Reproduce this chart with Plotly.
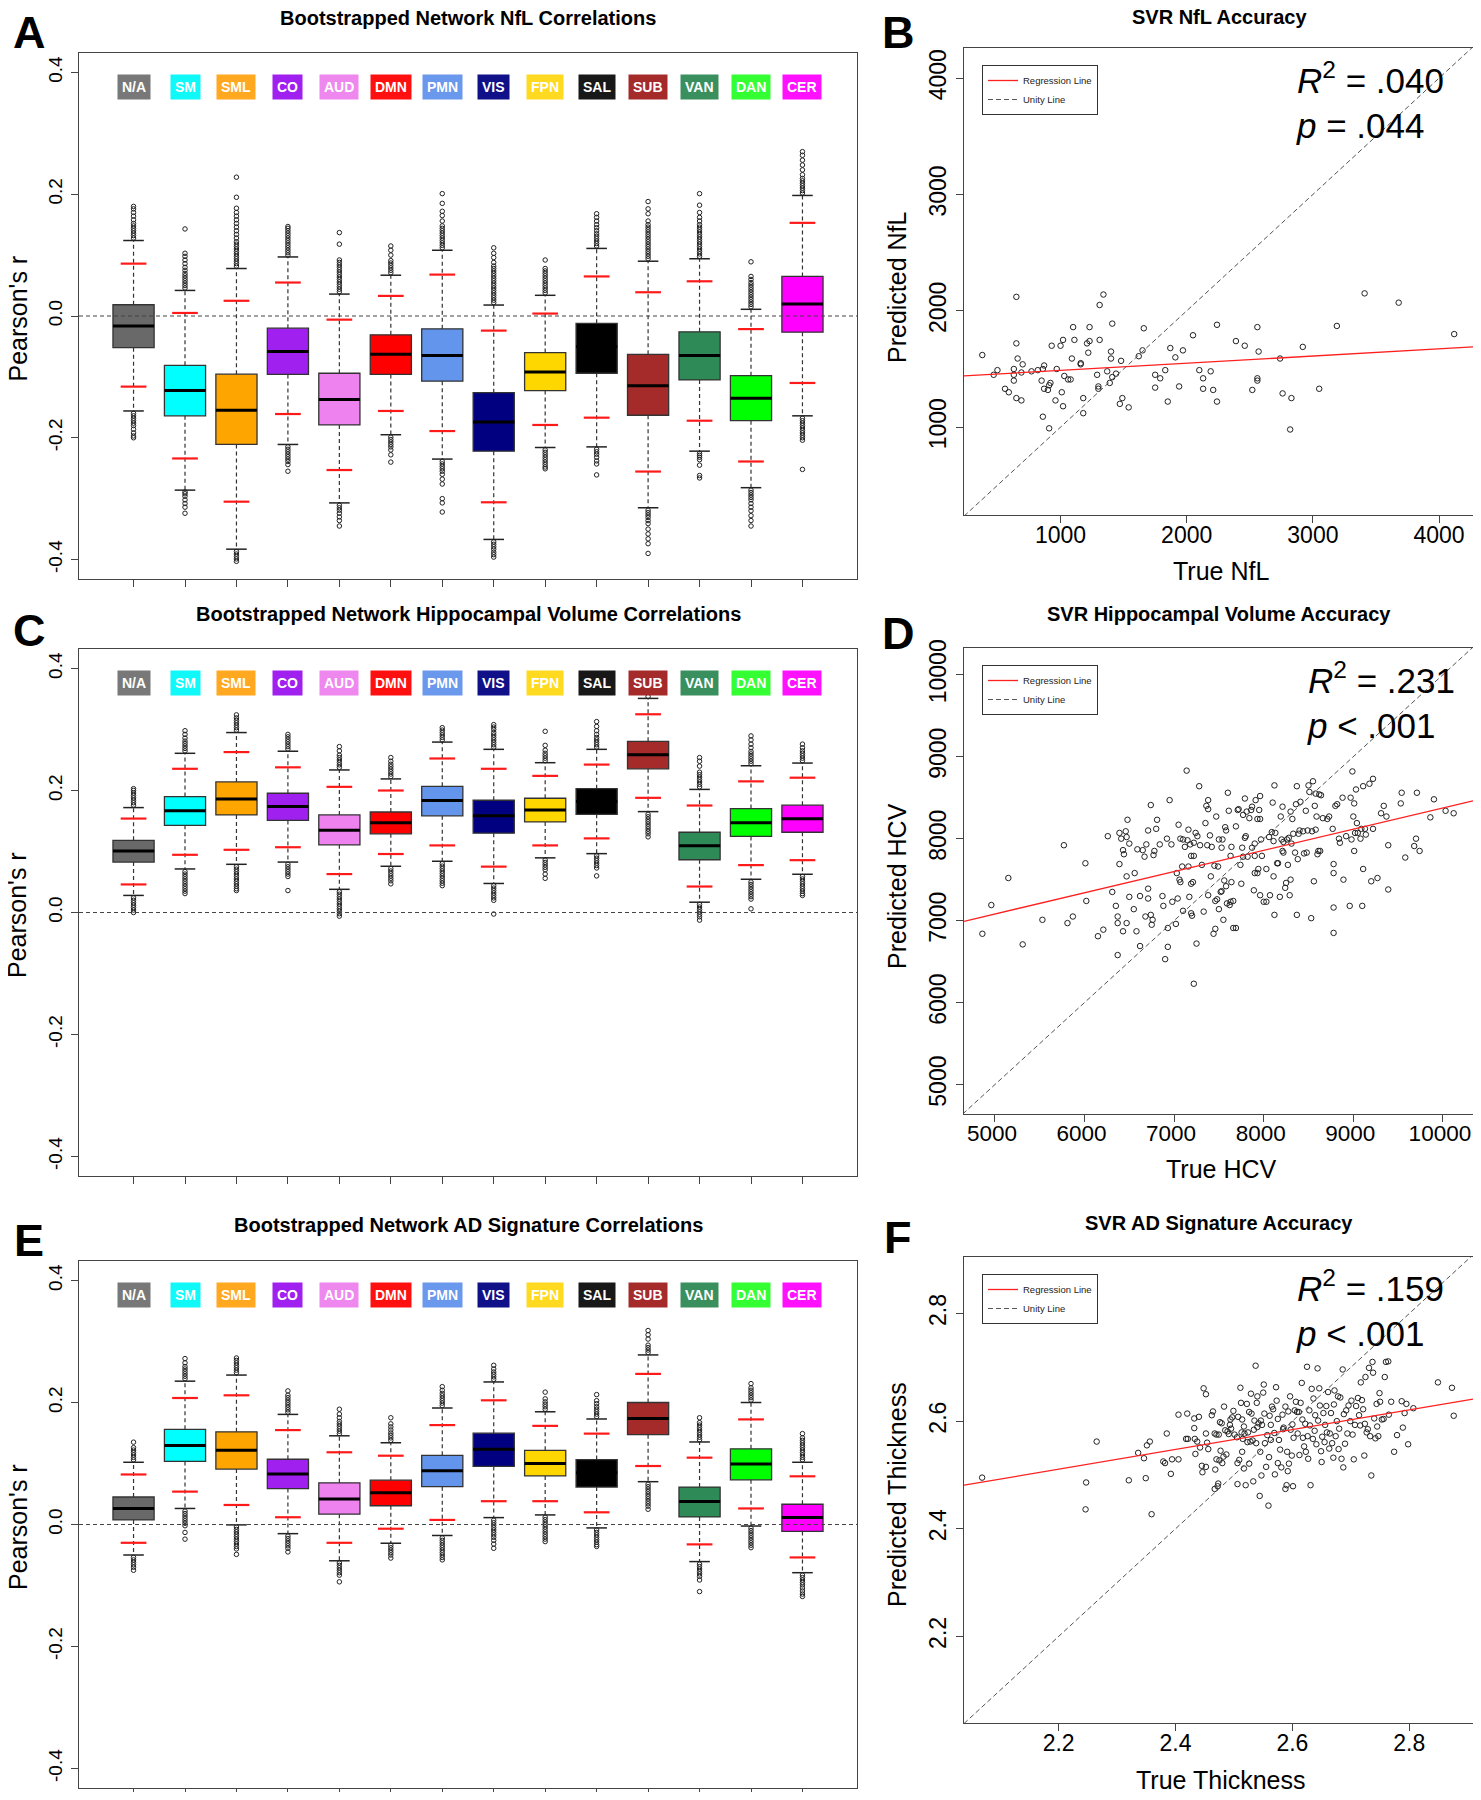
import plotly.graph_objects as go
from plotly.subplots import make_subplots

# page geometry (body has an 8px margin)
W, H = 1465, 1784
OFF = 8
FONT = "Liberation Sans, Arial, sans-serif"


def px_x(x):
    return (x - OFF) / W


def px_y(y):
    return 1 - (y - OFF) / H


# ---------------- network box plots ----------------
networks = ['N/A', 'SM', 'SML', 'CO', 'AUD', 'DMN', 'PMN', 'VIS', 'FPN', 'SAL', 'SUB', 'VAN', 'DAN', 'CER']
net_colors = ['#696969', '#00FFFF', '#FFA500', '#A020F0', '#EE82EE', '#FF0000', '#6495ED',
              '#000080', '#FFD700', '#000000', '#A52A2A', '#2E8B57', '#00FF00', '#FF00FF']
label_colors = ['#787878', '#10F8F8', '#FFA820', '#A020F0', '#EE88EE', '#FF1010', '#6A98ED',
                '#101088', '#FFDA20', '#181818', '#A52A2A', '#3A8F5F', '#33FF33', '#FF10FF']
positions = list(range(1, 15))
y_ticks = [-0.4, -0.2, 0.0, 0.2, 0.4]
y_tick_text = ['-0.4', '-0.2', '0.0', '0.2', '0.4']

# A: NfL
nfl_q3 = [0.0185, -0.081, -0.0955, -0.020, -0.094, -0.031, -0.021, -0.126, -0.060, -0.012, -0.063, -0.026, -0.098, 0.065]
nfl_med = [-0.0166, -0.1225, -0.155, -0.0585, -0.137, -0.063, -0.065, -0.174, -0.092, -0.05, -0.1145, -0.065, -0.135, 0.0197]
nfl_q1 = [-0.052, -0.164, -0.211, -0.096, -0.179, -0.096, -0.107, -0.222, -0.1225, -0.094, -0.163, -0.105, -0.172, -0.0265]
nfl_hi = [0.124, 0.042, 0.078, 0.097, 0.036, 0.067, 0.108, 0.018, 0.034, 0.111, 0.090, 0.094, 0.011, 0.198]
nfl_lo = [-0.156, -0.286, -0.383, -0.211, -0.307, -0.195, -0.235, -0.367, -0.216, -0.215, -0.315, -0.222, -0.282, -0.164]
nfl_ci_hi = [0.086, 0.005, 0.025, 0.055, -0.006, 0.033, 0.068, -0.024, 0.004, 0.065, 0.039, 0.057, -0.0215, 0.153]
nfl_ci_lo = [-0.116, -0.234, -0.305, -0.161, -0.253, -0.156, -0.189, -0.306, -0.179, -0.167, -0.2555, -0.172, -0.239, -0.110]
nfl_out_hi = [
    [0.128, 0.132, 0.136, 0.140, 0.144, 0.148, 0.152, 0.158, 0.164, 0.170, 0.176, 0.180],
    [0.046, 0.050, 0.054, 0.058, 0.062, 0.066, 0.070, 0.075, 0.080, 0.086, 0.092, 0.098, 0.103, 0.143],
    [0.082, 0.086, 0.090, 0.094, 0.098, 0.102, 0.106, 0.110, 0.114, 0.118, 0.122, 0.128, 0.134, 0.140,
     0.146, 0.152, 0.158, 0.164, 0.170, 0.177, 0.195, 0.228],
    [0.100, 0.104, 0.108, 0.112, 0.116, 0.120, 0.124, 0.128, 0.132, 0.136, 0.140, 0.144, 0.147],
    [0.040, 0.044, 0.048, 0.052, 0.056, 0.060, 0.064, 0.068, 0.072, 0.076, 0.080, 0.084, 0.088, 0.092, 0.118, 0.137],
    [0.071, 0.075, 0.079, 0.083, 0.087, 0.091, 0.100, 0.108, 0.115],
    [0.112, 0.116, 0.120, 0.124, 0.128, 0.132, 0.136, 0.140, 0.144, 0.148, 0.156, 0.165, 0.172, 0.185, 0.201],
    [0.022, 0.026, 0.030, 0.034, 0.038, 0.042, 0.046, 0.050, 0.054, 0.058, 0.062, 0.066, 0.070, 0.074,
     0.078, 0.082, 0.088, 0.096, 0.103, 0.112],
    [0.038, 0.042, 0.046, 0.050, 0.054, 0.058, 0.062, 0.066, 0.070, 0.074, 0.078, 0.092],
    [0.115, 0.119, 0.123, 0.127, 0.131, 0.135, 0.140, 0.145, 0.150, 0.156, 0.162, 0.168],
    [0.094, 0.098, 0.102, 0.106, 0.110, 0.114, 0.118, 0.122, 0.126, 0.130, 0.134, 0.138, 0.142, 0.146,
     0.150, 0.156, 0.168, 0.176, 0.188],
    [0.098, 0.102, 0.106, 0.110, 0.114, 0.118, 0.122, 0.126, 0.130, 0.134, 0.138, 0.142, 0.146, 0.150,
     0.156, 0.162, 0.170, 0.182, 0.201],
    [0.015, 0.019, 0.023, 0.027, 0.031, 0.035, 0.039, 0.043, 0.047, 0.051, 0.055, 0.060, 0.065, 0.089],
    [0.202, 0.206, 0.210, 0.214, 0.218, 0.222, 0.226, 0.232, 0.240, 0.248, 0.256, 0.264, 0.270],
]
nfl_out_lo = [
    [-0.160, -0.164, -0.168, -0.172, -0.176, -0.180, -0.186, -0.192, -0.197, -0.200],
    [-0.289, -0.292, -0.296, -0.302, -0.308, -0.314, -0.324],
    [-0.387, -0.391, -0.395, -0.399, -0.403],
    [-0.215, -0.219, -0.223, -0.227, -0.231, -0.235, -0.239, -0.244, -0.255],
    [-0.311, -0.315, -0.319, -0.324, -0.330, -0.336, -0.345],
    [-0.199, -0.203, -0.207, -0.211, -0.215, -0.220, -0.228, -0.240],
    [-0.239, -0.243, -0.247, -0.251, -0.255, -0.260, -0.268, -0.276, -0.300, -0.307, -0.322],
    [-0.371, -0.375, -0.379, -0.383, -0.388, -0.392, -0.396],
    [-0.220, -0.224, -0.228, -0.232, -0.236, -0.240, -0.244, -0.248, -0.251],
    [-0.219, -0.223, -0.227, -0.232, -0.238, -0.243, -0.261],
    [-0.319, -0.323, -0.327, -0.331, -0.336, -0.341, -0.350, -0.358, -0.366, -0.374, -0.390],
    [-0.226, -0.229, -0.232, -0.236, -0.245, -0.262, -0.266],
    [-0.286, -0.290, -0.294, -0.298, -0.302, -0.308, -0.314, -0.320, -0.328, -0.336, -0.345],
    [-0.168, -0.172, -0.176, -0.180, -0.184, -0.188, -0.192, -0.196, -0.200, -0.204, -0.252],
]

# C: hippocampal volume
hcv_q3 = [0.1184, 0.190, 0.214, 0.1955, 0.160, 0.1648, 0.2068, 0.184, 0.1873, 0.203, 0.2807, 0.1316, 0.1704, 0.176]
hcv_med = [0.1009, 0.1667, 0.186, 0.1736, 0.135, 0.147, 0.1836, 0.1585, 0.168, 0.182, 0.2588, 0.1096, 0.147, 0.1535]
hcv_q1 = [0.0827, 0.1429, 0.160, 0.151, 0.111, 0.129, 0.1585, 0.130, 0.1485, 0.161, 0.2356, 0.0865, 0.1247, 0.1316]
hcv_hi = [0.172, 0.261, 0.295, 0.2644, 0.2337, 0.219, 0.2794, 0.2675, 0.2456, 0.2675, 0.351, 0.2018, 0.2406, 0.245]
hcv_lo = [0.028, 0.0714, 0.079, 0.0827, 0.038, 0.0758, 0.084, 0.0476, 0.0896, 0.0965, 0.1654, 0.0169, 0.0545, 0.0627]
hcv_ci_hi = [0.154, 0.2356, 0.263, 0.238, 0.206, 0.200, 0.2525, 0.2356, 0.224, 0.2425, 0.325, 0.1754, 0.215, 0.221]
hcv_ci_lo = [0.046, 0.0946, 0.1028, 0.107, 0.063, 0.0959, 0.110, 0.0752, 0.110, 0.1215, 0.188, 0.0426, 0.0777, 0.0858]
hcv_out_hi = [
    [0.176, 0.180, 0.184, 0.188, 0.192, 0.196, 0.200, 0.203],
    [0.265, 0.269, 0.273, 0.277, 0.281, 0.286, 0.292, 0.298],
    [0.299, 0.303, 0.307, 0.311, 0.315, 0.319, 0.324],
    [0.268, 0.272, 0.276, 0.280, 0.284, 0.288, 0.292],
    [0.238, 0.242, 0.246, 0.250, 0.254, 0.258, 0.265, 0.272],
    [0.223, 0.227, 0.231, 0.235, 0.239, 0.243, 0.248, 0.254],
    [0.283, 0.287, 0.291, 0.295, 0.299, 0.303],
    [0.271, 0.275, 0.279, 0.283, 0.287, 0.291, 0.295, 0.300, 0.304, 0.308],
    [0.249, 0.253, 0.257, 0.261, 0.266, 0.274, 0.297],
    [0.271, 0.275, 0.279, 0.283, 0.287, 0.292, 0.298, 0.305, 0.313],
    [0.354],
    [0.206, 0.210, 0.214, 0.218, 0.222, 0.226, 0.230, 0.240, 0.248, 0.254],
    [0.244, 0.248, 0.252, 0.256, 0.260, 0.264, 0.270, 0.276, 0.283, 0.2895],
    [0.249, 0.253, 0.257, 0.261, 0.265, 0.270, 0.276],
]
hcv_out_lo = [
    [0.024, 0.020, 0.016, 0.012, 0.008, 0.004, 0.0],
    [0.067, 0.063, 0.059, 0.055, 0.051, 0.047, 0.043, 0.039, 0.035, 0.031],
    [0.075, 0.071, 0.067, 0.063, 0.059, 0.055, 0.051, 0.047, 0.043, 0.039, 0.036],
    [0.079, 0.075, 0.071, 0.067, 0.063, 0.059, 0.036],
    [0.034, 0.030, 0.026, 0.022, 0.018, 0.014, 0.010, 0.006, 0.002, -0.002, -0.006],
    [0.072, 0.068, 0.064, 0.060, 0.056, 0.052, 0.047],
    [0.080, 0.076, 0.072, 0.068, 0.064, 0.060, 0.056, 0.052, 0.048, 0.044],
    [0.044, 0.040, 0.036, 0.032, 0.028, 0.024, 0.020, -0.0025],
    [0.086, 0.082, 0.078, 0.074, 0.070, 0.063, 0.056],
    [0.093, 0.089, 0.085, 0.081, 0.077, 0.073, 0.060],
    [0.161, 0.157, 0.153, 0.149, 0.145, 0.141, 0.137, 0.133, 0.129, 0.124],
    [0.013, 0.009, 0.005, 0.001, -0.003, -0.007, -0.0125],
    [0.050, 0.046, 0.042, 0.038, 0.034, 0.030, 0.026, 0.022, 0.006],
    [0.059, 0.055, 0.051, 0.047, 0.043, 0.039, 0.035, 0.031, 0.028],
]

# E: AD signature
ads_q3 = [0.0451, 0.156, 0.152, 0.107, 0.0683, 0.0727, 0.1134, 0.1497, 0.1216, 0.1065, 0.200, 0.0614, 0.124, 0.0332]
ads_med = [0.0263, 0.1297, 0.1216, 0.0827, 0.042, 0.052, 0.0883, 0.1234, 0.100, 0.085, 0.1736, 0.0376, 0.099, 0.0113]
ads_q1 = [0.0075, 0.1034, 0.0908, 0.0589, 0.0169, 0.0307, 0.062, 0.0952, 0.0796, 0.0614, 0.1472, 0.0125, 0.0733, -0.0113]
ads_hi = [0.102, 0.235, 0.245, 0.1805, 0.1454, 0.134, 0.191, 0.2337, 0.1848, 0.173, 0.278, 0.1353, 0.200, 0.102]
ads_lo = [-0.050, 0.0263, -0.0006, -0.015, -0.0595, -0.0307, -0.018, 0.0113, 0.0157, -0.0056, 0.0702, -0.0608, -0.0025, -0.079]
ads_ci_hi = [0.082, 0.2074, 0.2118, 0.1548, 0.1184, 0.1128, 0.163, 0.2036, 0.1617, 0.149, 0.2469, 0.1096, 0.1723, 0.079]
ads_ci_lo = [-0.030, 0.0539, 0.032, 0.0119, -0.030, -0.0069, 0.0075, 0.0382, 0.0382, 0.020, 0.0959, -0.0326, 0.0263, -0.054]
ads_out_hi = [
    [0.106, 0.110, 0.114, 0.118, 0.122, 0.126, 0.135],
    [0.239, 0.243, 0.247, 0.251, 0.255, 0.259, 0.265, 0.272],
    [0.249, 0.253, 0.257, 0.261, 0.265, 0.269, 0.273],
    [0.184, 0.188, 0.192, 0.196, 0.200, 0.204, 0.208, 0.212, 0.219],
    [0.149, 0.153, 0.157, 0.161, 0.165, 0.169, 0.175, 0.181, 0.189],
    [0.138, 0.142, 0.146, 0.150, 0.155, 0.160, 0.165, 0.175],
    [0.195, 0.199, 0.203, 0.207, 0.211, 0.215, 0.220, 0.226],
    [0.238, 0.242, 0.246, 0.250, 0.255, 0.261],
    [0.189, 0.193, 0.197, 0.201, 0.206, 0.217],
    [0.177, 0.181, 0.185, 0.189, 0.193, 0.198, 0.203, 0.213],
    [0.282, 0.286, 0.290, 0.294, 0.304, 0.311, 0.318],
    [0.139, 0.143, 0.147, 0.151, 0.155, 0.159, 0.163, 0.167, 0.175],
    [0.204, 0.208, 0.212, 0.216, 0.220, 0.224, 0.231],
    [0.106, 0.110, 0.114, 0.118, 0.122, 0.126, 0.130, 0.134, 0.138, 0.142, 0.149],
]
ads_out_lo = [
    [-0.054, -0.058, -0.062, -0.066, -0.070, -0.075],
    [0.022, 0.018, 0.014, 0.010, 0.006, 0.002, -0.002, -0.013, -0.024],
    [-0.004, -0.008, -0.012, -0.016, -0.020, -0.024, -0.028, -0.032, -0.036, -0.040, -0.049],
    [-0.019, -0.023, -0.027, -0.031, -0.035, -0.039, -0.045],
    [-0.063, -0.067, -0.071, -0.075, -0.079, -0.083, -0.094],
    [-0.034, -0.038, -0.042, -0.046, -0.050, -0.055],
    [-0.022, -0.026, -0.030, -0.034, -0.038, -0.042, -0.046, -0.050, -0.054, -0.058],
    [0.007, 0.003, -0.001, -0.005, -0.009, -0.013, -0.017, -0.021, -0.026, -0.032, -0.039],
    [0.012, 0.008, 0.004, 0.0, -0.004, -0.008, -0.012, -0.016, -0.020, -0.024, -0.028],
    [-0.009, -0.013, -0.017, -0.021, -0.025, -0.029, -0.033, -0.036],
    [0.066, 0.062, 0.058, 0.054, 0.050, 0.046, 0.042, 0.038, 0.034, 0.030, 0.025],
    [-0.065, -0.069, -0.073, -0.077, -0.081, -0.085, -0.091, -0.110],
    [-0.006, -0.010, -0.014, -0.018, -0.022, -0.026, -0.030, -0.034, -0.038],
    [-0.083, -0.087, -0.091, -0.095, -0.099, -0.104, -0.109, -0.114, -0.118],
]

# ---------------- SVR scatter data ----------------
nfl_true = [380, 470, 500, 560, 590, 630, 630, 630, 650, 650,
            650, 660, 690, 690, 700, 770, 820, 850, 860, 870,
            860, 870, 900, 910, 910, 920, 930, 960, 970, 1000,
            1010, 1020, 1030, 1020, 1060, 1080, 1090, 1100, 1110, 1160,
            1160, 1180, 1180, 1210, 1220, 1230, 1230, 1290, 1300, 1300,
            1310, 1310, 1340, 1370, 1390, 1400, 1400, 1410, 1410, 1440,
            1470, 1480, 1490, 1540, 1620, 1650, 1660, 1750, 1750, 1790,
            1830, 1850, 1870, 1910, 1940, 1970, 2050, 2100, 2130, 2130,
            2190, 2210, 2240, 2240, 2390, 2460, 2520, 2560, 2560, 2560,
            2570, 2740, 2760, 2820, 2830, 2920, 3050, 3190, 3410, 3680, 4120]
nfl_pred = [1620, 1450, 1490, 1330, 1300, 1500, 1450, 1400, 2120, 1720,
            1250, 1590, 1230, 1470, 1540, 1480, 1490, 1400, 1500, 1530,
            1090, 1330, 1320, 990, 1360, 1380, 1700, 1230, 1500, 1700,
            1300, 1750, 1440, 1180, 1410, 1410, 1590, 1860, 1750, 1550,
            1540, 1250, 1120, 1720, 1640, 1860, 1740, 1450, 1350, 1330,
            2050, 1750, 2140, 1480, 1380, 1650, 1590, 1430, 1890, 1460,
            1200, 1570, 1250, 1170, 1610, 1660, 1850, 1450, 1340, 1420,
            1490, 1220, 1680, 1600, 1350, 1660, 1790, 1490, 1420, 1330,
            1480, 1320, 1880, 1220, 1740, 1700, 1320, 1420, 1400, 1860,
            1650, 1590, 1290, 980, 1250, 1690, 1330, 1870, 2150, 2070, 1800]

hcv_true = [4860, 4960, 5150, 5310, 5530, 5770, 5810, 5870, 6010, 6020,
            6150, 6210, 6260, 6310, 6350, 6370, 6370, 6370, 6390, 6390,
            6410, 6430, 6440, 6430, 6460, 6470, 6470, 6470, 6480, 6500,
            6500, 6550, 6560, 6580, 6590, 6620, 6620, 6650, 6670, 6680,
            6690, 6710, 6710, 6710, 6740, 6740, 6750, 6760, 6770, 6780,
            6800, 6810, 6840, 6870, 6880, 6900, 6920, 6930, 6930, 6950,
            6970, 6980, 7020, 7030, 7040, 7050, 7060, 7070, 7070, 7090,
            7100, 7100, 7120, 7140, 7150, 7160, 7160, 7170, 7180, 7190,
            7190, 7190, 7200, 7210, 7220, 7220, 7220, 7240, 7250, 7260,
            7280, 7290, 7310, 7330, 7350, 7360, 7370, 7380, 7380, 7380,
            7400, 7410, 7420, 7440, 7450, 7460, 7460, 7470, 7480, 7490,
            7500, 7500, 7520, 7530, 7530, 7540, 7550, 7560, 7570, 7580,
            7580, 7590, 7600, 7610, 7620, 7630, 7630, 7640, 7640, 7660,
            7660, 7690, 7690, 7710, 7720, 7740, 7750, 7760, 7770, 7770,
            7790, 7790, 7800, 7810, 7820, 7840, 7860, 7870, 7870, 7890,
            7900, 7900, 7900, 7910, 7930, 7930, 7940, 7950, 7960, 7960,
            7960, 7970, 7980, 8000, 8030, 8030, 8060, 8070, 8090, 8100,
            8110, 8110, 8120, 8120, 8130, 8150, 8160, 8180, 8190, 8200,
            8210, 8210, 8220, 8220, 8240, 8250, 8260, 8270, 8280, 8290,
            8300, 8300, 8310, 8320, 8330, 8350, 8360, 8370, 8370, 8380,
            8390, 8400, 8410, 8440, 8450, 8470, 8480, 8490, 8500, 8510,
            8530, 8540, 8550, 8560, 8570, 8580, 8580, 8590, 8600, 8610,
            8620, 8630, 8640, 8660, 8710, 8730, 8770, 8780, 8780, 8780,
            8780, 8800, 8820, 8840, 8850, 8880, 8890, 8920, 8960, 8970,
            8980, 8990, 9000, 9010, 9010, 9020, 9030, 9040, 9050, 9080,
            9090, 9100, 9110, 9110, 9130, 9140, 9180, 9200, 9220, 9220,
            9270, 9310, 9340, 9370, 9390, 9390, 9530, 9540, 9580, 9680,
            9700, 9740, 9860, 9900, 10030, 10120, 9710]
hcv_pred = [6840, 7190, 7520, 6710, 7010, 7920, 6970, 7050, 7700, 7240,
            6810, 6890, 8030, 7350, 7180, 7050, 6970, 6580, 7690, 8070,
            8000, 7860, 7810, 6870, 8090, 8020, 7540, 6970, 8230, 7290,
            7940, 7140, 7580, 6870, 7870, 6690, 7300, 7860, 7780, 7050,
            7930, 8100, 7270, 7390, 8410, 7070, 6950, 7010, 7800, 7850,
            8120, 8230, 7930, 7300, 7180, 6530, 8000, 6910, 6680, 8470,
            7930, 7230, 6960, 7580, 7270, 8170, 7500, 8000, 7470, 7660,
            7120, 7990, 7900, 8830, 7980, 7660, 8110, 7290, 7930, 7090,
            7790, 7450, 7060, 7470, 7950, 6230, 7790, 8070, 6720, 8030,
            8640, 7920, 7680, 7110, 8190, 8400, 7920, 7310, 8470, 8360,
            8040, 7540, 7900, 6840, 7670, 6900, 7240, 8270, 7260, 7660,
            7140, 7990, 7350, 7890, 7360, 7990, 7010, 7490, 8140, 7420,
            8100, 7210, 8560, 8340, 7190, 7230, 7790, 7470, 7900, 6910,
            7240, 6910, 8150, 8350, 8360, 7680, 7450, 7890, 7780, 8290,
            8490, 8010, 8030, 8330, 7780, 8250, 8350, 8390, 7890, 7370,
            7940, 7580, 7790, 8470, 8240, 7580, 7630, 8350, 7310, 8240,
            8520, 7990, 7790, 7230, 7230, 7630, 8020, 7310, 8080, 8440,
            7970, 7540, 8650, 7070, 8070, 7700, 7700, 7290, 8270, 7990,
            8390, 7850, 7830, 7960, 7400, 7460, 7990, 7680, 8010, 7310,
            7500, 8330, 7940, 8240, 8060, 7830, 8420, 8640, 7070, 7750,
            8060, 8100, 8450, 8090, 7820, 8340, 7830, 8100, 8650, 8570,
            7030, 8090, 8700, 7480, 8400, 8110, 8550, 8270, 7810, 7850,
            8540, 7850, 8530, 8250, 8240, 8270, 8120, 7690, 7580, 6850,
            7160, 8400, 8420, 8000, 7950, 8500, 7500, 8030, 7180, 8500,
            7990, 8820, 8270, 8430, 7850, 8070, 8600, 8190, 8070, 8000,
            8120, 7180, 8640, 7630, 8120, 8050, 8670, 7480, 8730, 8120,
            7520, 8310, 8400, 8270, 7920, 7380, 8430, 8560, 7770, 7910,
            8000, 7850, 8260, 8480, 8340, 8310, 8560]

thick_true = [2.069, 2.247, 2.246, 2.265, 2.320, 2.336, 2.346, 2.349, 2.351, 2.356,
              2.359, 2.379, 2.382, 2.385, 2.392, 2.394, 2.405, 2.405, 2.418, 2.420,
              2.421, 2.432, 2.432, 2.433, 2.434, 2.437, 2.440, 2.442, 2.445, 2.446,
              2.448, 2.452, 2.452, 2.452, 2.454, 2.456, 2.462, 2.464, 2.467, 2.467,
              2.468, 2.470, 2.470, 2.472, 2.473, 2.474, 2.475, 2.476, 2.477, 2.479,
              2.480, 2.482, 2.483, 2.485, 2.487, 2.489, 2.491, 2.493, 2.494, 2.495,
              2.497, 2.499, 2.501, 2.505, 2.506, 2.506, 2.507, 2.509, 2.511, 2.512,
              2.513, 2.514, 2.514, 2.515, 2.517, 2.517, 2.518, 2.520, 2.522, 2.523,
              2.524, 2.526, 2.526, 2.528, 2.529, 2.530, 2.532, 2.533, 2.534, 2.535,
              2.537, 2.538, 2.539, 2.540, 2.540, 2.542, 2.544, 2.545, 2.546, 2.547,
              2.548, 2.550, 2.551, 2.552, 2.553, 2.555, 2.557, 2.559, 2.560, 2.561,
              2.563, 2.563, 2.565, 2.567, 2.569, 2.570, 2.572, 2.573, 2.575, 2.575,
              2.577, 2.579, 2.581, 2.583, 2.584, 2.585, 2.588, 2.588, 2.590, 2.591,
              2.592, 2.593, 2.594, 2.596, 2.597, 2.599, 2.600, 2.601, 2.602, 2.604,
              2.606, 2.608, 2.609, 2.611, 2.612, 2.614, 2.616, 2.617, 2.618, 2.620,
              2.622, 2.623, 2.625, 2.626, 2.627, 2.629, 2.630, 2.631, 2.633, 2.635,
              2.636, 2.638, 2.639, 2.641, 2.643, 2.644, 2.646, 2.647, 2.649, 2.650,
              2.651, 2.653, 2.655, 2.656, 2.658, 2.659, 2.661, 2.663, 2.664, 2.666,
              2.668, 2.670, 2.671, 2.672, 2.674, 2.676, 2.678, 2.679, 2.680, 2.682,
              2.684, 2.686, 2.687, 2.688, 2.690, 2.692, 2.694, 2.696, 2.699, 2.701,
              2.703, 2.705, 2.707, 2.709, 2.712, 2.714, 2.716, 2.717, 2.719, 2.721,
              2.723, 2.724, 2.725, 2.727, 2.729, 2.731, 2.733, 2.735, 2.737, 2.738,
              2.740, 2.742, 2.744, 2.745, 2.747, 2.749, 2.750, 2.753, 2.756, 2.758,
              2.760, 2.764, 2.765, 2.769, 2.774, 2.779, 2.787, 2.789, 2.792, 2.795,
              2.798, 2.807, 2.849, 2.873, 2.876]
thick_pred = [2.495, 2.486, 2.436, 2.562, 2.490, 2.541, 2.531, 2.494, 2.555, 2.562,
              2.427, 2.525, 2.522, 2.577, 2.502, 2.529, 2.612, 2.529, 2.567, 2.614,
              2.567, 2.605, 2.587, 2.567, 2.539, 2.562, 2.608, 2.551, 2.517, 2.505,
              2.661, 2.515, 2.650, 2.577, 2.560, 2.548, 2.611, 2.618, 2.577, 2.474,
              2.510, 2.575, 2.529, 2.479, 2.484, 2.575, 2.527, 2.598, 2.545, 2.596,
              2.522, 2.534, 2.627, 2.583, 2.538, 2.581, 2.576, 2.593, 2.603, 2.586,
              2.607, 2.619, 2.575, 2.570, 2.522, 2.483, 2.608, 2.528, 2.662, 2.634,
              2.579, 2.543, 2.603, 2.567, 2.512, 2.590, 2.577, 2.481, 2.632, 2.561,
              2.579, 2.617, 2.521, 2.562, 2.651, 2.614, 2.564, 2.488, 2.584, 2.601,
              2.703, 2.559, 2.634, 2.646, 2.589, 2.596, 2.461, 2.543, 2.601, 2.499,
              2.593, 2.653, 2.668, 2.614, 2.559, 2.515, 2.574, 2.443, 2.533, 2.610,
              2.593, 2.565, 2.627, 2.622, 2.578, 2.501, 2.663, 2.638, 2.522, 2.604,
              2.565, 2.547, 2.514, 2.612, 2.585, 2.588, 2.627, 2.474, 2.481, 2.543,
              2.507, 2.618, 2.521, 2.646, 2.584, 2.536, 2.594, 2.479, 2.569, 2.620,
              2.636, 2.617, 2.577, 2.617, 2.537, 2.634, 2.671, 2.603, 2.569, 2.553,
              2.595, 2.543, 2.701, 2.572, 2.530, 2.620, 2.592, 2.481, 2.660, 2.567,
              2.642, 2.582, 2.611, 2.557, 2.698, 2.601, 2.661, 2.629, 2.544, 2.524,
              2.571, 2.615, 2.561, 2.593, 2.628, 2.579, 2.654, 2.549, 2.577, 2.615,
              2.559, 2.532, 2.631, 2.657, 2.572, 2.600, 2.646, 2.548, 2.586, 2.644,
              2.530, 2.696, 2.514, 2.613, 2.558, 2.620, 2.577, 2.629, 2.600, 2.638,
              2.575, 2.529, 2.593, 2.628, 2.643, 2.611, 2.592, 2.672, 2.639, 2.622,
              2.536, 2.595, 2.682, 2.579, 2.585, 2.699, 2.572, 2.499, 2.710, 2.690,
              2.605, 2.568, 2.632, 2.590, 2.572, 2.652, 2.636, 2.603, 2.604, 2.682,
              2.710, 2.711, 2.612, 2.636, 2.543, 2.574, 2.637, 2.588, 2.615, 2.632,
              2.557, 2.624, 2.672, 2.662, 2.610]

# fitted regression lines (intercept, slope) as drawn in the source
nfl_fit = (1426.0, 0.0617)
hcv_fit = (5788.0, 0.2586)
thick_fit = (2.1066, 0.1837)

fig = make_subplots(rows=3, cols=2)


def segments(x0, x1, y0, y1):
    xs, ys = [], []
    for a, b, c, d in zip(x0, x1, y0, y1):
        xs += [a, b, None]
        ys += [c, d, None]
    return xs, ys


def add_box_panel(row, q1, med, q3, lo, hi, ci_lo, ci_hi, out_hi, out_lo):
    dash = "4px,3px"
    wx, wy = segments(positions, positions, q3, hi)
    wx2, wy2 = segments(positions, positions, q1, lo)
    fig.add_trace(go.Scatter(x=wx + wx2, y=wy + wy2, mode='lines',
                             line=dict(color='#333', width=1.2, dash=dash),
                             hoverinfo='skip', showlegend=False), row=row, col=1)
    fig.add_trace(go.Bar(x=positions, y=[b - a for a, b in zip(q1, q3)], base=q1, width=0.8,
                         marker=dict(color=net_colors, line=dict(color='#333', width=1.3)),
                         showlegend=False), row=row, col=1)
    left = [p - 0.4 for p in positions]
    right = [p + 0.4 for p in positions]
    mx, my = segments(left, right, med, med)
    fig.add_trace(go.Scatter(x=mx, y=my, mode='lines', line=dict(color='black', width=3),
                             hoverinfo='skip', showlegend=False), row=row, col=1)
    cl = [p - 0.2 for p in positions]
    cr = [p + 0.2 for p in positions]
    cx, cy = segments(cl + cl, cr + cr, hi + lo, hi + lo)
    fig.add_trace(go.Scatter(x=cx, y=cy, mode='lines', line=dict(color='#222', width=1.5),
                             hoverinfo='skip', showlegend=False), row=row, col=1)
    rl = [p - 0.25 for p in positions]
    rr = [p + 0.25 for p in positions]
    rx, ry = segments(rl + rl, rr + rr, ci_hi + ci_lo, ci_hi + ci_lo)
    fig.add_trace(go.Scatter(x=rx, y=ry, mode='lines', line=dict(color='#FF1A1A', width=2.2),
                             hoverinfo='skip', showlegend=False), row=row, col=1)
    ox, oy = [], []
    for p, up, down in zip(positions, out_hi, out_lo):
        ox += [p] * (len(up) + len(down))
        oy += up + down
    fig.add_trace(go.Scatter(x=ox, y=oy, mode='markers',
                             marker=dict(symbol='circle-open', size=4.5, color='#222',
                                         line=dict(width=1)),
                             hoverinfo='skip', showlegend=False), row=row, col=1)
    fig.add_hline(y=0, line=dict(color='#444', width=1.2, dash=dash), row=row, col=1)
    xname = 'x' if row == 1 else 'x%d' % (2 * row - 1)
    yname = 'y' if row == 1 else 'y%d' % (2 * row - 1)
    for p, name, c in zip(positions, networks, label_colors):
        fig.add_annotation(x=p, y=0.376, xref=xname, yref=yname, text='<b>%s</b>' % name,
                           showarrow=False, bgcolor=c, borderpad=4,
                           font=dict(family=FONT, size=14, color='white'))


def add_scatter_panel(row, x, y, xr, yr, fit, legend_name):
    fig.add_trace(go.Scatter(x=x, y=y, mode='markers',
                             marker=dict(symbol='circle-open', size=5.5, color='#222',
                                         line=dict(width=1)),
                             showlegend=False), row=row, col=2)
    a, b = fit
    fig.add_trace(go.Scatter(x=list(xr), y=[a + b * v for v in xr], mode='lines',
                             line=dict(color='#FF2020', width=1.3), name='Regression Line',
                             legend=legend_name), row=row, col=2)
    lo = min(xr[0], yr[0])
    hi = max(xr[1], yr[1])
    fig.add_trace(go.Scatter(x=[lo, hi], y=[lo, hi], mode='lines',
                             line=dict(color='#555', width=1, dash='5px,3px'), name='Unity Line',
                             legend=legend_name), row=row, col=2)


add_box_panel(1, nfl_q1, nfl_med, nfl_q3, nfl_lo, nfl_hi, nfl_ci_lo, nfl_ci_hi, nfl_out_hi, nfl_out_lo)
add_box_panel(2, hcv_q1, hcv_med, hcv_q3, hcv_lo, hcv_hi, hcv_ci_lo, hcv_ci_hi, hcv_out_hi, hcv_out_lo)
add_box_panel(3, ads_q1, ads_med, ads_q3, ads_lo, ads_hi, ads_ci_lo, ads_ci_hi, ads_out_hi, ads_out_lo)

nfl_xr, nfl_yr = (235, 4269), (245, 4259)
hcv_xr, hcv_yr = (4655, 10336), (4641, 10326)
thick_xr, thick_yr = (2.038, 2.909), (2.039, 2.905)
add_scatter_panel(1, nfl_true, nfl_pred, nfl_xr, nfl_yr, nfl_fit, 'legend')
add_scatter_panel(2, hcv_true, hcv_pred, hcv_xr, hcv_yr, hcv_fit, 'legend2')
add_scatter_panel(3, thick_true, thick_pred, thick_xr, thick_yr, thick_fit, 'legend3')

axis_style = dict(showline=True, mirror=True, linecolor='#444', linewidth=1.3, ticks='outside',
                  ticklen=7, tickcolor='#444', showgrid=False, zeroline=False, automargin=False,
                  tickfont=dict(family=FONT, color='black'))

box_rows = [(53, 579), (649, 1176), (1261, 1788)]
sc_rows = [(48, 515), (648, 1114), (1257, 1723)]
layout = {}
for i in range(3):
    k = 2 * i + 1
    kx = '' if k == 1 else str(k)
    top, bot = box_rows[i]
    layout['xaxis' + kx] = dict(axis_style, domain=[px_x(79), px_x(857)], range=[-0.06, 15.06],
                                tickvals=positions, showticklabels=False)
    layout['yaxis' + kx] = dict(axis_style, domain=[px_y(bot), px_y(top)], range=[-0.432, 0.432],
                                tickvals=y_ticks, ticktext=y_tick_text, tickangle=-90,
                                ticklabelstandoff=1,
                                tickfont=dict(family=FONT, size=19, color='black'))
    k2 = str(2 * i + 2)
    top, bot = sc_rows[i]
    layout['xaxis' + k2] = dict(axis_style, domain=[px_x(964), px_x(1473)],
                                ticklabelstandoff=-8, ticklabeloverflow='allow',
                                tickfont=dict(family=FONT, size=23, color='black'))
    layout['yaxis' + k2] = dict(axis_style, domain=[px_y(bot), px_y(top)], tickangle=-90,
                                ticklabelstandoff=1,
                                tickfont=dict(family=FONT, size=23, color='black'))

layout['xaxis2'].update(range=list(nfl_xr), tickvals=[1000, 2000, 3000, 4000], tickformat='d')
layout['yaxis2'].update(range=list(nfl_yr), tickvals=[1000, 2000, 3000, 4000], tickformat='d')
layout['xaxis4'].update(range=list(hcv_xr), tickvals=[5000, 6000, 7000, 8000, 9000, 10000], tickformat='d',
                        ticklabelshift=-3, tickfont=dict(family=FONT, size=22.5, color='black'))
layout['yaxis4'].update(range=list(hcv_yr), tickvals=[5000, 6000, 7000, 8000, 9000, 10000], tickformat='d')
layout['xaxis6'].update(range=list(thick_xr), tickvals=[2.2, 2.4, 2.6, 2.8], tickformat='.1f')
layout['yaxis6'].update(range=list(thick_yr), tickvals=[2.2, 2.4, 2.6, 2.8], tickformat='.1f')

legend_style = dict(xanchor='left', yanchor='top', bordercolor='#333', borderwidth=1,
                    bgcolor='white', font=dict(family=FONT, size=9.5, color='#222'),
                    tracegroupgap=0, itemwidth=30)
layout['legend'] = dict(legend_style, x=px_x(982), y=px_y(65))
layout['legend2'] = dict(legend_style, x=px_x(982), y=px_y(665))
layout['legend3'] = dict(legend_style, x=px_x(982), y=px_y(1274))

fig.update_layout(**layout)
fig.update_layout(width=W, height=H, margin=dict(l=0, r=0, t=0, b=0),
                  plot_bgcolor='white', paper_bgcolor='white', barmode='overlay',
                  font=dict(family=FONT, color='black'))


def note(x, y, text, size, bold=False, angle=0, xanchor='center'):
    fig.add_annotation(x=px_x(x), y=px_y(y), xref='paper', yref='paper',
                       text='<b>%s</b>' % text if bold else text, showarrow=False,
                       textangle=angle, xanchor=xanchor, yanchor='middle', align='left',
                       font=dict(family=FONT, size=size, color='black'))


# panel titles
note(468, 18, 'Bootstrapped Network NfL Correlations', 20, bold=True)
note(468, 614, 'Bootstrapped Network Hippocampal Volume Correlations', 20, bold=True)
note(468, 1225, 'Bootstrapped Network AD Signature Correlations', 20, bold=True)
note(1219, 17, 'SVR NfL Accuracy', 20, bold=True)
note(1219, 614, 'SVR Hippocampal Volume Accuracy', 20, bold=True)
note(1219, 1223, 'SVR AD Signature Accuracy', 20, bold=True)

# panel letters
for letter, lx, ly in [('A', 29, 33), ('B', 898, 32), ('C', 29, 630),
                       ('D', 898, 634), ('E', 29, 1240), ('F', 898, 1237)]:
    note(lx, ly, letter, 45, bold=True)

# axis titles
for top, bot in box_rows:
    note(17.5, (top + bot) / 2 + 3, "Pearson's r", 25, angle=-90)
note(897, 287, 'Predicted NfL', 25, angle=-90)
note(897, 886, 'Predicted HCV', 25, angle=-90)
note(897, 1495, 'Predicted Thickness', 25, angle=-90)
note(1221, 571, 'True NfL', 25)
note(1221, 1169, 'True HCV', 25)
note(1221, 1780, 'True Thickness', 25)

# statistics
note(1294, 100, '<i>R</i><sup>2</sup> = .040<br><i>p</i> = .044', 35, xanchor='left')
note(1305, 700, '<i>R</i><sup>2</sup> = .231<br><i>p</i> &lt; .001', 35, xanchor='left')
note(1294, 1308, '<i>R</i><sup>2</sup> = .159<br><i>p</i> &lt; .001', 35, xanchor='left')

fig.write_html("out.html")
